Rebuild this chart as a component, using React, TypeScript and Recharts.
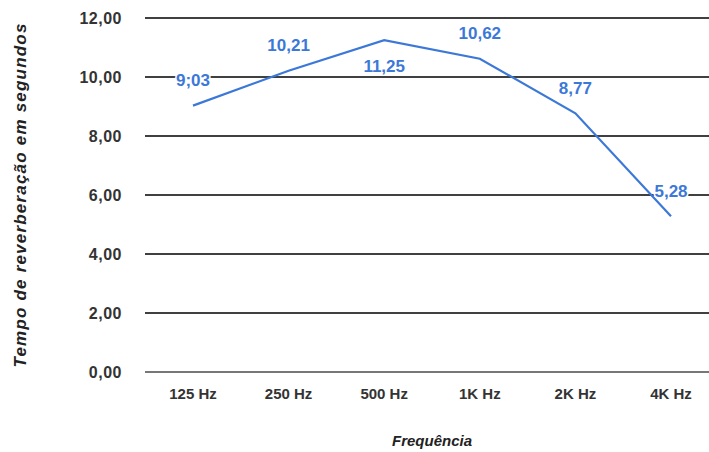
import React from 'react';
import { LineChart, Line, XAxis, YAxis, CartesianGrid, LabelList } from 'recharts';

const CATEGORIES = ['125 Hz', '250 Hz', '500 Hz', '1K Hz', '2K Hz', '4K Hz'];
const VALUES = [9.03, 10.21, 11.25, 10.62, 8.77, 5.28];
const VALUE_LABELS = ['9;03', '10,21', '11,25', '10,62', '8,77', '5,28'];
const Y_TICKS = [0, 2, 4, 6, 8, 10, 12];

const BLUE = '#3c78d8';
const FONT = '"Liberation Sans", Arial, sans-serif';

const data = CATEGORIES.map((name, i) => ({ name, value: VALUES[i] }));

// data labels sit above the point, except at 500 Hz where it drops below
function renderLabel(props: any) {
  const { x, y, index } = props;
  const below = index === 2;
  return (
    <text
      x={x}
      y={below ? y + 26 : y - 25}
      textAnchor="middle"
      dominantBaseline="central"
      fill={BLUE}
      stroke="#ffffff"
      strokeWidth={3}
      paintOrder="stroke"
      fontFamily={FONT}
      fontWeight={700}
      fontSize={17}
    >
      {VALUE_LABELS[index]}
    </text>
  );
}

export default function App() {
  return (
    <div style={{ position: 'fixed', left: 0, top: 0, width: 709, height: 452, overflow: 'hidden', background: '#fff' }}>
      <LineChart width={720} height={452} data={data} margin={{ top: 18, right: 1, left: 0, bottom: 0 }}>
        <CartesianGrid vertical={false} stroke="#000" strokeWidth={1.3} />
        <XAxis
          dataKey="name"
          height={80}
          padding={{ left: 48, right: 48 }}
          tickLine={false}
          axisLine={{ stroke: '#777', strokeWidth: 2 }}
          tickMargin={10}
          tick={{ fill: '#333', fontSize: 15, fontWeight: 700, fontFamily: FONT }}
          label={{
            value: 'Frequência',
            position: 'insideBottom',
            offset: 6,
            style: { fill: '#222', fontSize: 15, fontWeight: 700, fontStyle: 'italic', fontFamily: FONT },
          }}
        />
        <YAxis
          width={145}
          domain={[0, 12]}
          ticks={Y_TICKS}
          tickLine={false}
          axisLine={false}
          tickMargin={17}
          tickFormatter={(v: number) => v.toFixed(2).replace('.', ',')}
          tick={{ fill: '#333', fontSize: 16, fontWeight: 700, fontFamily: FONT, letterSpacing: 0.5 }}
          label={{
            value: 'Tempo de reverberação em segundos',
            angle: -90,
            position: 'insideLeft',
            offset: 20,
            style: { textAnchor: 'middle', fill: '#222', fontSize: 17, fontWeight: 700, fontStyle: 'italic', fontFamily: FONT, letterSpacing: 1.2 },
          }}
        />
        <Line type="linear" dataKey="value" stroke={BLUE} strokeWidth={2.2} dot={false} isAnimationActive={false}>
          <LabelList dataKey="value" content={renderLabel} />
        </Line>
      </LineChart>
    </div>
  );
}
